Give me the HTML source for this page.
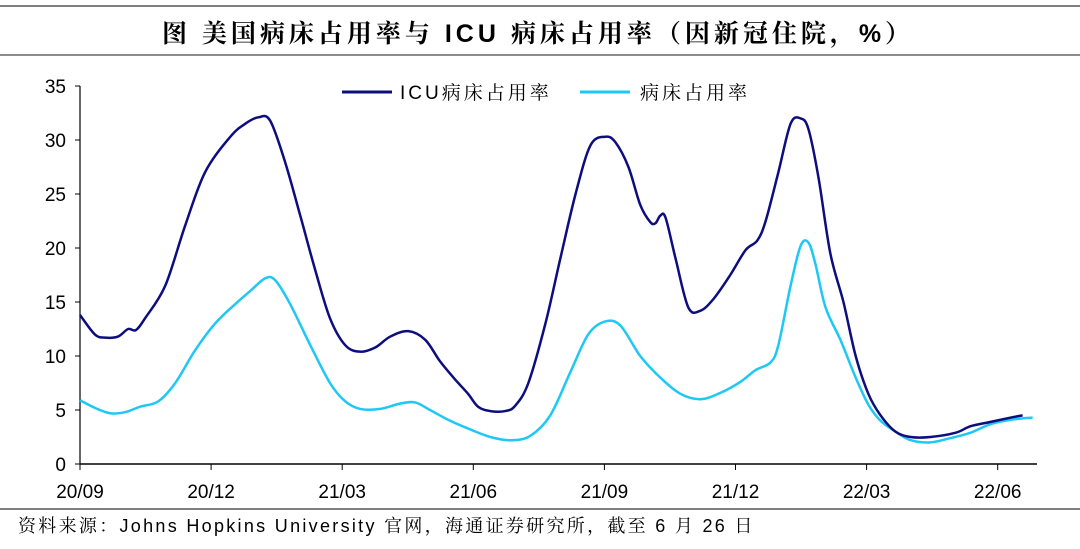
<!DOCTYPE html>
<html><head><meta charset="utf-8"><style>
body{margin:0;width:1080px;height:544px;background:#fff;overflow:hidden;font-family:"Liberation Sans","Noto Serif CJK SC",sans-serif}
</style></head><body>
<svg id="c" width="1080" height="544" xmlns="http://www.w3.org/2000/svg">
<line x1="0" y1="6" x2="1080" y2="6" stroke="#555" stroke-width="1.5"/>
<text x="538" y="42" text-anchor="middle" font-size="25" font-weight="bold" letter-spacing="4" fill="#000">图 美国病床占用率与 ICU 病床占用率（因新冠住院，%）</text>
<line x1="0" y1="55" x2="1080" y2="55" stroke="#666" stroke-width="1.5"/>
<line x1="0" y1="509" x2="1080" y2="509" stroke="#555" stroke-width="1.5"/>
<text x="18" y="532" font-size="18" letter-spacing="2.3" fill="#000">资料来源：Johns Hopkins University 官网，海通证券研究所，截至 6 月 26 日</text>
<g id="axes"></g><g id="series"></g>
<g>
<line x1="342" y1="92" x2="392" y2="92" stroke="#0d0d7f" stroke-width="3"/>
<text x="400" y="99" font-size="19" letter-spacing="3">ICU病床占用率</text>
<line x1="580" y1="92" x2="630" y2="92" stroke="#1ec8f5" stroke-width="3"/>
<text x="640" y="99" font-size="19" letter-spacing="3">病床占用率</text>
</g>
</svg>
<script>
const tickLabels=["20/09","20/12","21/03","21/06","21/09","21/12","22/03","22/06"];
const yTicks=[0,5,10,15,20,25,30,35];
const icuMonths=[0,0.34,0.57,0.87,1.10,1.28,1.49,1.95,2.40,2.86,3.44,3.78,4.08,4.35,4.69,5.04,5.38,5.72,6.07,6.41,6.76,7.10,7.51,7.90,8.24,8.59,8.88,9.11,9.39,9.73,9.96,10.26,10.65,10.99,11.34,11.68,12.02,12.25,12.55,12.82,13.05,13.17,13.28,13.40,13.63,13.92,14.20,14.50,14.88,15.23,15.50,15.69,15.98,16.26,16.49,16.67,16.90,17.17,17.47,17.75,18.04,18.32,18.66,19.01,19.46,20.04,20.38,20.84,21.30,21.57];
const icuValues=[13.8,12,11.7,11.8,12.5,12.4,13.5,16.5,22,27,30.3,31.5,32.1,31.8,28,23,18,13.5,11,10.4,10.8,11.8,12.3,11.5,9.5,7.8,6.5,5.3,4.9,4.9,5.4,7.5,13,19,25,29.5,30.3,29.8,27.5,24,22.4,22.3,23,22.8,19,14.5,14.2,15.3,17.5,19.8,20.7,22.5,27,31.5,32,31,26.5,19.5,15,10,6.5,4.5,3,2.5,2.5,2.9,3.5,3.9,4.3,4.5];
const bedMonths=[0,0.34,0.69,1.03,1.37,1.79,2.18,2.63,3.09,3.55,3.89,4.24,4.47,4.81,5.27,5.72,6.07,6.41,6.87,7.33,7.67,8.01,8.47,8.93,9.39,9.85,10.30,10.76,11.22,11.63,12.02,12.37,12.82,13.28,13.74,14.20,14.66,15.11,15.46,15.80,15.98,16.26,16.49,16.67,16.83,17.06,17.40,17.75,18.04,18.32,18.66,19.01,19.46,19.92,20.38,20.84,21.30,21.80];
const bedValues=[5.9,5.2,4.7,4.8,5.3,5.8,7.5,10.5,13,14.8,16,17.2,17,14.8,11,7.5,5.8,5.1,5.1,5.6,5.7,5,4,3.2,2.5,2.2,2.6,4.5,8.5,12,13.2,12.8,10,8,6.5,6,6.6,7.6,8.7,9.4,11,16.5,20.2,20.5,18.5,14.5,11.5,8,5.5,4,3,2.2,2,2.4,2.9,3.7,4.1,4.3];
const X0=80,X1=1037,Y0=464,PXM=43.7,PYU=378/35;
const xs=m=>X0+m*PXM, ys=v=>Y0-v*PYU;
const NS="http://www.w3.org/2000/svg";
const ax=document.getElementById('axes'), sg=document.getElementById('series');
function mk(t,a,p){const e=document.createElementNS(NS,t);for(const k in a)e.setAttribute(k,a[k]);p.appendChild(e);return e;}
let e=mk('line',{x1:X0,y1:86,x2:X0,y2:Y0,stroke:'#000','stroke-width':1.2},ax);


e=mk('line',{x1:X0,y1:Y0,x2:X1,y2:Y0,stroke:'#000','stroke-width':1.5},ax);


yTicks.forEach(v=>{
 const t=mk('line',{x1:X0-5,y1:ys(v),x2:X0,y2:ys(v),stroke:'#000'},ax);
 
 
 const l=mk('text',{x:X0-14,y:ys(v)+7,'text-anchor':'end','font-size':19},ax);
 l.textContent=v;
 
 
});
tickLabels.forEach((s,i)=>{
 const x=xs(i*3);
 const t=mk('line',{x1:x,y1:Y0,x2:x,y2:Y0+6,stroke:'#000'},ax);
 
 
 const l=mk('text',{x:x,y:Y0+34,'text-anchor':'middle','font-size':19},ax);
 l.textContent=s;
 
 
});
function path(ms,vs){
 const p=ms.map((m,i)=>[xs(m),ys(vs[i])]);
 let d='M'+p[0][0]+','+p[0][1];
 for(let i=0;i<p.length-1;i++){
  const a=p[i-1]||p[i],b=p[i],c=p[i+1],n=p[i+2]||c;
  d+=` C${b[0]+(c[0]-a[0])/6},${b[1]+(c[1]-a[1])/6} ${c[0]-(n[0]-b[0])/6},${c[1]-(n[1]-b[1])/6} ${c[0]},${c[1]}`;
 }
 return d;
}
e=mk('path',{d:path(bedMonths,bedValues),fill:'none',stroke:'#1ec8f5','stroke-width':2.5},sg);


e=mk('path',{d:path(icuMonths,icuValues),fill:'none',stroke:'#0d0d7f','stroke-width':2.5},sg);


</script>
</body></html>
